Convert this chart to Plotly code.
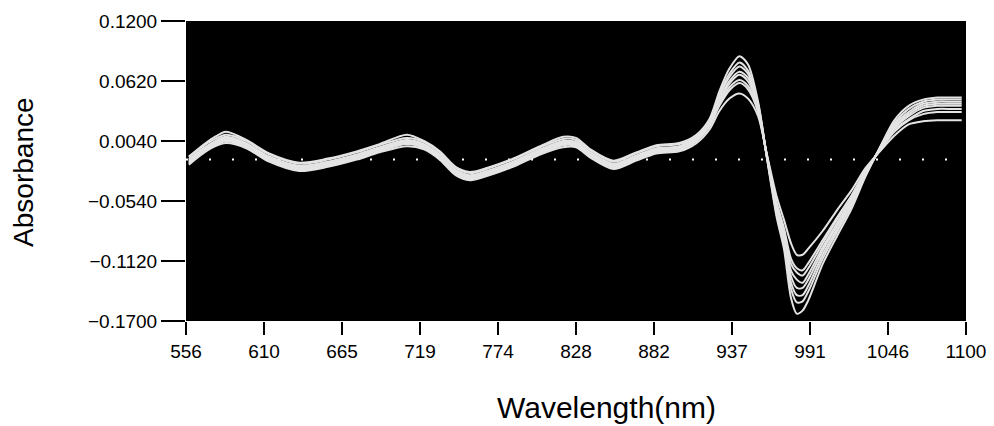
import numpy as np
import plotly.graph_objects as go

# Wavelength grid (nm)
wavelength = [558, 566, 575, 584, 598, 614, 635, 655, 675, 691, 710, 722, 733, 744, 754,
              768, 784, 803, 819, 828, 838, 854, 870, 884, 900,
              912, 921, 928, 935, 942, 948, 955, 961, 968, 973, 978, 982, 986, 990,
              1000, 1010, 1020, 1030, 1040, 1050, 1060, 1070, 1080, 1090, 1097]

# Spectra (absorbance)
s1 = [-0.019, -0.010, -0.002, 0.002, -0.003, -0.016, -0.025, -0.021, -0.014, -0.007, -0.001, -0.004, -0.014, -0.029, -0.034,
      -0.029, -0.021, -0.009, -0.002, -0.002, -0.012, -0.023, -0.015, -0.008, -0.006,
      0.002, 0.015, 0.033, 0.045, 0.050, 0.045, 0.028, -0.008, -0.050, -0.072, -0.095, -0.106, -0.106, -0.100,
      -0.083, -0.063, -0.044, -0.022, -0.006, 0.009, 0.020, 0.023, 0.024, 0.024, 0.024]
s2 = [-0.018, -0.009, -0.001, 0.004, -0.002, -0.015, -0.024, -0.020, -0.013, -0.006, 0.001, -0.003, -0.013, -0.028, -0.033,
      -0.028, -0.020, -0.008, 0.000, -0.001, -0.011, -0.022, -0.014, -0.007, -0.005,
      0.004, 0.018, 0.038, 0.053, 0.060, 0.054, 0.032, -0.009, -0.056, -0.080, -0.110, -0.119, -0.121, -0.114,
      -0.092, -0.070, -0.049, -0.024, -0.005, 0.013, 0.024, 0.030, 0.032, 0.032, 0.032]
s3 = [-0.017, -0.008, 0.000, 0.005, -0.001, -0.014, -0.023, -0.019, -0.012, -0.005, 0.002, -0.002, -0.012, -0.027, -0.032,
      -0.027, -0.019, -0.007, 0.001, 0.000, -0.010, -0.021, -0.013, -0.006, -0.004,
      0.005, 0.019, 0.040, 0.056, 0.063, 0.057, 0.033, -0.009, -0.057, -0.082, -0.115, -0.123, -0.126, -0.119,
      -0.095, -0.072, -0.051, -0.025, -0.0045, 0.015, 0.025, 0.033, 0.035, 0.035, 0.035]
s4 = [-0.016, -0.007, 0.001, 0.006, 0.000, -0.013, -0.022, -0.018, -0.011, -0.004, 0.003, -0.001, -0.011, -0.026, -0.031,
      -0.026, -0.018, -0.006, 0.002, 0.001, -0.009, -0.020, -0.012, -0.005, -0.003,
      0.006, 0.020, 0.0425, 0.0595, 0.068, 0.0615, 0.035, -0.0095, -0.060, -0.086, -0.1215, -0.130, -0.133, -0.125,
      -0.099, -0.0755, -0.053, -0.026, -0.004, 0.0165, 0.028, 0.036, 0.038, 0.038, 0.038]
s5 = [-0.015, -0.006, 0.002, 0.007, 0.001, -0.012, -0.021, -0.017, -0.010, -0.003, 0.004, 0.000, -0.010, -0.025, -0.030,
      -0.025, -0.017, -0.005, 0.003, 0.002, -0.008, -0.019, -0.011, -0.004, -0.002,
      0.007, 0.021, 0.044, 0.062, 0.071, 0.065, 0.036, -0.010, -0.062, -0.089, -0.127, -0.138, -0.138, -0.130,
      -0.102, -0.078, -0.055, -0.027, -0.0036, 0.018, 0.030, 0.038, 0.040, 0.040, 0.040]
s6 = [-0.014, -0.005, 0.003, 0.008, 0.002, -0.011, -0.020, -0.016, -0.009, -0.002, 0.005, 0.001, -0.009, -0.024, -0.029,
      -0.024, -0.016, -0.004, 0.004, 0.003, -0.007, -0.018, -0.010, -0.003, -0.001,
      0.008, 0.022, 0.047, 0.066, 0.076, 0.069, 0.038, -0.010, -0.064, -0.092, -0.133, -0.145, -0.145, -0.136,
      -0.106, -0.081, -0.057, -0.028, -0.003, 0.020, 0.032, 0.040, 0.042, 0.042, 0.042]
s7 = [-0.012, -0.003, 0.005, 0.010, 0.004, -0.009, -0.018, -0.014, -0.007, 0.000, 0.007, 0.003, -0.007, -0.022, -0.027,
      -0.022, -0.014, -0.002, 0.006, 0.005, -0.005, -0.016, -0.008, -0.001, 0.001,
      0.009, 0.023, 0.049, 0.069, 0.080, 0.072, 0.040, -0.0105, -0.067, -0.095, -0.139, -0.152, -0.151, -0.1415,
      -0.110, -0.084, -0.059, -0.029, -0.0027, 0.0215, 0.035, 0.042, 0.044, 0.044, 0.044]
s8 = [-0.011, -0.002, 0.007, 0.013, 0.005, -0.008, -0.017, -0.013, -0.006, 0.001, 0.010, 0.004, -0.006, -0.021, -0.026,
      -0.021, -0.013, -0.001, 0.008, 0.007, -0.004, -0.015, -0.007, 0.000, 0.002,
      0.010, 0.025, 0.052, 0.074, 0.086, 0.078, 0.042, -0.011, -0.070, -0.100, -0.148, -0.163, -0.160, -0.150,
      -0.115, -0.088, -0.062, -0.030, -0.002, 0.024, 0.038, 0.044, 0.046, 0.046, 0.046]

baseline = -0.014  # dotted reference line

x_tick_labels = ["556", "610", "665", "719", "774", "828", "882", "937", "991", "1046", "1100"]
y_tick_values = [0.1200, 0.0620, 0.0040, -0.0540, -0.1120, -0.1700]

x_min, x_max = 556, 1100
y_min, y_max = -0.17, 0.12

fig = go.Figure()

fig.add_trace(go.Scatter(
    x=[x_min, x_max], y=[baseline, baseline], mode="lines",
    line=dict(color="white", width=2, dash="2px,21px"),
    hoverinfo="skip", showlegend=False))

for s in [s1, s2, s3, s4, s5, s6, s7, s8]:
    fig.add_trace(go.Scatter(
        x=wavelength, y=s, mode="lines",
        line=dict(color="rgb(228,228,228)", width=2.0, shape="spline", smoothing=0.8),
        showlegend=False))

# page body has an 8px margin, so the figure is made 8px smaller and shifted
fig.update_layout(
    width=986, height=418,
    margin=dict(l=178, r=28, t=13, b=105, autoexpand=False),
    paper_bgcolor="white", plot_bgcolor="black",
    font=dict(family="Liberation Sans, Arial, sans-serif", color="black"),
    showlegend=False,
    annotations=[
        dict(text="Absorbance", xref="paper", yref="paper", x=-0.2077, y=0.497,
             textangle=-90, showarrow=False, font=dict(size=28),
             xanchor="center", yanchor="middle"),
        dict(text="Wavelength(nm)", xref="paper", yref="paper", x=0.5397, y=-0.287,
             showarrow=False, font=dict(size=30),
             xanchor="center", yanchor="middle"),
    ],
)

fig.update_xaxes(
    range=[x_min, x_max],
    tickmode="array",
    tickvals=np.linspace(x_min, x_max, len(x_tick_labels)),
    ticktext=x_tick_labels,
    ticks="outside", ticklen=13, tickwidth=1.5, tickcolor="black",
    tickfont=dict(size=19),
    showgrid=False, zeroline=False, showline=False,
)
fig.update_yaxes(
    range=[y_min, y_max],
    tickmode="array",
    tickvals=y_tick_values,
    tickformat=".4f",
    ticks="outside", ticklen=24, tickwidth=2, tickcolor="black",
    tickfont=dict(size=19),
    showgrid=False, zeroline=False, showline=False,
)

fig.write_html("out.html")
